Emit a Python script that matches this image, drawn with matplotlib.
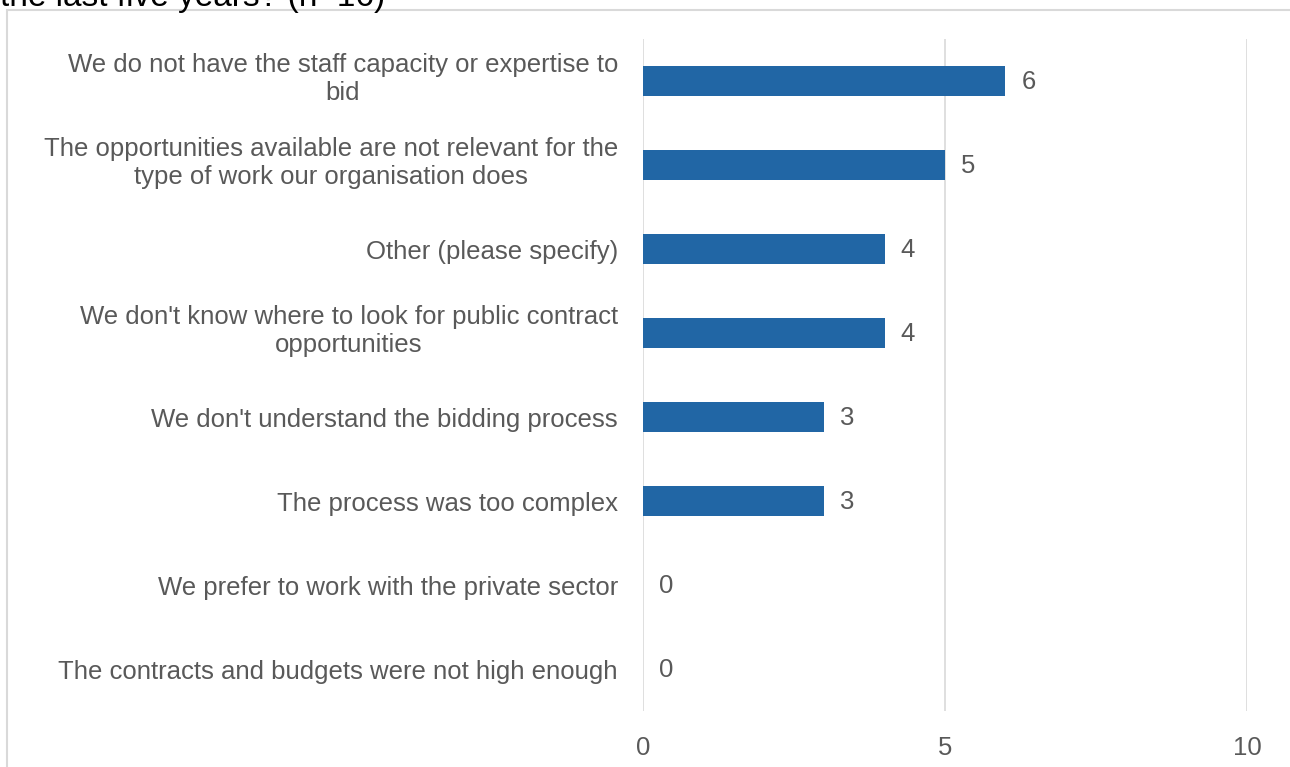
import matplotlib

matplotlib.use("Agg")

import matplotlib.pyplot as plt
from matplotlib.patches import Rectangle
from matplotlib.transforms import ScaledTranslation

plt.rcParams["font.family"] = ["Liberation Sans", "DejaVu Sans"]

reasons = [
    "We do not have the staff capacity or expertise to\nbid",
    "The opportunities available are not relevant for the\ntype of work our organisation does",
    "Other (please specify)",
    "We don't know where to look for public contract\nopportunities",
    "We don't understand the bidding process",
    "The process was too complex",
    "We prefer to work with the private sector",
    "The contracts and budgets were not high enough",
]
counts = [6, 5, 4, 4, 3, 3, 0, 0]
x_ticks = [0, 5, 10]
title = "the last five years? (n=16)"

bar_color = "#2166a5"
text_color = "#595959"
grid_color = "#d9d9d9"
font_size = 18.5

fig = plt.figure(figsize=(12.9, 7.67), dpi=100)

# chart frame, running off the right and bottom edges
fig.patches.append(
    Rectangle(
        (7 / 1290, -0.05),
        1.1,
        1 - 10 / 767 + 0.05,
        transform=fig.transFigure,
        facecolor="none",
        edgecolor=grid_color,
        linewidth=1.5,
        zorder=0,
    )
)
fig.text(0, 1 - 6 / 767, title, fontsize=24, color="#000000",
         ha="left", va="baseline")

ax = fig.add_axes([643 / 1290, 1 - 711 / 767, 604 / 1290, 672 / 767])

positions = list(range(len(reasons)))
ax.barh(positions, counts, height=0.36, color=bar_color, zorder=3)

for pos, value in zip(positions, counts):
    ax.annotate(
        str(value),
        (value, pos),
        xytext=(11.5, -1),
        textcoords="offset points",
        va="center",
        ha="left",
        fontsize=font_size,
        color=text_color,
    )

ax.set_xlim(0, 10)
ax.set_ylim(len(reasons) - 0.5, -0.5)
ax.set_xticks(x_ticks)
ax.set_xticklabels([str(t) for t in x_ticks])
ax.set_yticks(positions)
ax.set_yticklabels(reasons, multialignment="center", linespacing=1.22)

ax.tick_params(axis="y", length=0, pad=18, labelsize=font_size, labelcolor=text_color)
ax.tick_params(axis="x", length=0, pad=18, labelsize=font_size, labelcolor=text_color)

# wrapped labels sit a little above their bar
lift = ScaledTranslation(0, 5 / 72, fig.dpi_scale_trans)
for label in ax.get_yticklabels():
    if "\n" in label.get_text():
        label.set_transform(label.get_transform() + lift)

ax.xaxis.grid(True, color=grid_color, linewidth=1.2, zorder=0)
ax.set_axisbelow(True)
for spine in ax.spines.values():
    spine.set_visible(False)

fig.savefig("out.png", dpi=100)
